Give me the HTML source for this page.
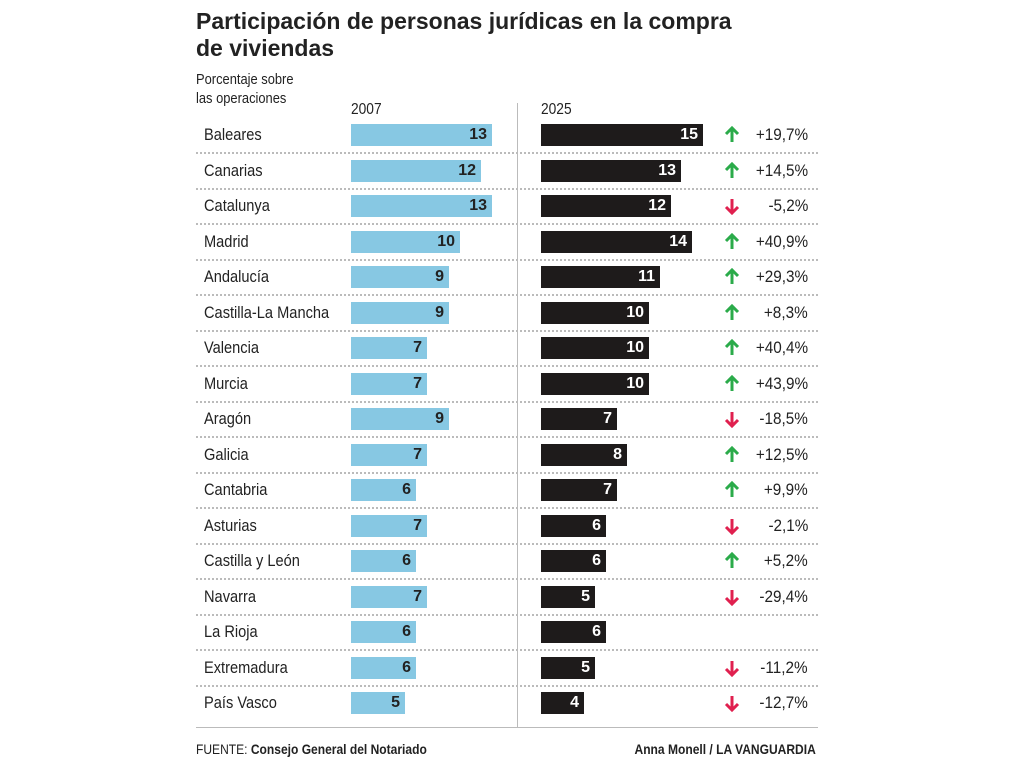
<!DOCTYPE html>
<html><head><meta charset="utf-8"><style>
body{margin:0;width:1024px;height:768px;background:#fff;font-family:"Liberation Sans",sans-serif;color:#222;position:relative;overflow:hidden}
.a{position:absolute;white-space:nowrap}
.n{transform:scaleX(0.86);transform-origin:left center}
.t{left:196px;font-weight:bold;font-size:23px;color:#222;line-height:27px;top:8px}
.lab{left:204px;font-size:17px;line-height:20px}
.b{position:absolute;height:22px}
.bl{background:#87c8e3;left:351px}
.bk{background:#1e1b1b;left:541px}
.b span{position:absolute;right:5px;top:2px;font-weight:bold;font-size:16px;line-height:18px}
.bl span{color:#222}.bk span{color:#fff}
.dot{position:absolute;left:196px;width:622px;border-top:2px dotted #bbb;height:0}
.pc{right:216px;font-size:17px;line-height:20px;transform:scaleX(0.9);transform-origin:right center}
.ar{position:absolute;left:724px}
</style></head><body>
<div class="a t">Participación de personas jurídicas en la compra<br>de viviendas</div>
<div class="a n" style="left:196px;top:70px;font-size:15px;line-height:19px">Porcentaje sobre<br>las operaciones</div>
<div class="a n" style="left:351px;top:101px;font-size:16px">2007</div>
<div class="a n" style="left:541px;top:101px;font-size:16px">2025</div>
<div style="position:absolute;left:517px;top:103px;width:1px;height:624px;background:#bbb"></div>
<div style="position:absolute;left:196px;top:727px;width:622px;height:1px;background:#bbb"></div>
<div class="a n" style="left:196px;top:741px;font-size:14px">FUENTE: <b>Consejo General del Notariado</b></div>
<div class="a" style="right:208px;top:741px;font-size:14px;font-weight:bold;transform:scaleX(0.86);transform-origin:right center">Anna Monell / LA VANGUARDIA</div>
<div id="rows"></div>
<script>
const d=[["Baleares",13,15,"+19,7%"],["Canarias",12,13,"+14,5%"],["Catalunya",13,12,"-5,2%"],["Madrid",10,14,"+40,9%"],["Andalucía",9,11,"+29,3%"],["Castilla-La Mancha",9,10,"+8,3%"],["Valencia",7,10,"+40,4%"],["Murcia",7,10,"+43,9%"],["Aragón",9,7,"-18,5%"],["Galicia",7,8,"+12,5%"],["Cantabria",6,7,"+9,9%"],["Asturias",7,6,"-2,1%"],["Castilla y León",6,6,"+5,2%"],["Navarra",7,5,"-29,4%"],["La Rioja",6,6,""],["Extremadura",6,5,"-11,2%"],["País Vasco",5,4,"-12,7%"]];
let h="";d.forEach((r,i)=>{const c=135+i*35.5;
h+=`<div class="a lab n" style="top:${c-10}px">${r[0]}</div>`;
h+=`<div class="b bl" style="top:${c-11}px;width:${Math.round(r[1]*10.85)}px"><span>${r[1]}</span></div>`;
h+=`<div class="b bk" style="top:${c-11}px;width:${Math.round(r[2]*10.8)}px"><span>${r[2]}</span></div>`;
if(r[3]){const up=r[3][0]=="+";const col=up?'#2bab4a':'#e0204f';
const p=up?'M8 2 L8 16 M2 8 L8 2 L14 8':'M8 16 L8 2 M2 10 L8 16 L14 10';
h+=`<svg class="ar" style="top:${c-9}px" width="16" height="18"><path d="${p}" stroke="${col}" stroke-width="3" fill="none"/></svg><div class="a pc" style="top:${c-10}px">${r[3]}</div>`;}
if(i<16)h+=`<div class="dot" style="top:${c+17}px"></div>`;});
document.getElementById("rows").innerHTML=h;
</script>
</body></html>
